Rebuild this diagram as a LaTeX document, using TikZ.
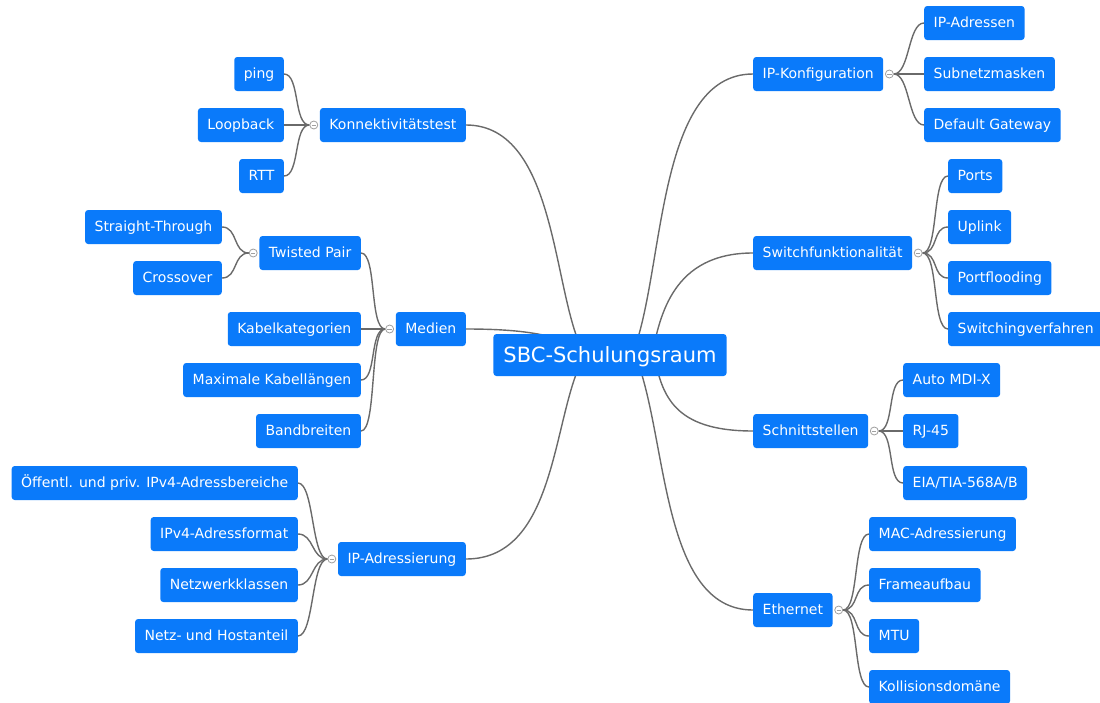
\documentclass[tikz,border=0pt]{standalone}
\usepackage{fontspec}
\setmainfont{DejaVu Sans}
\usetikzlibrary{backgrounds}
\definecolor{mapblue}{HTML}{0A7AFA}
\definecolor{mapline}{HTML}{6A6A6A}
\definecolor{foldgray}{HTML}{A0A0A0}

\begin{document}
\begin{tikzpicture}[x=1pt, y=-1pt,
  topic/.style={fill=mapblue, text=white, rounded corners=3pt,
    font=\fontsize{14}{16}\selectfont, inner xsep=9.5pt, inner ysep=0pt,
    minimum height=34pt, text height=10.3pt, text depth=1pt},
  roottopic/.style={topic, font=\fontsize{21}{25}\selectfont, inner xsep=10pt,
    minimum height=42pt, text height=15pt, text depth=1pt},
  fold/.style={circle, draw=foldgray, fill=white, line width=0.8pt,
    inner sep=0pt, minimum size=8pt,
    path picture={\draw[foldgray, line width=0.8pt]
      ([xshift=-2.2pt]path picture bounding box.center) --
      ([xshift=2.2pt]path picture bounding box.center);}},
  branch/.style={draw=mapline, line width=1.4pt}]

% Fix the page size
\useasboundingbox (0,0) rectangle (1100,702);

% Define the columns
\def\leftmain{466}
\def\rightmain{753}

% Draw the central topic
\node[roottopic] (root) at (610,355) {SBC-Schulungsraum};

% Left main topics
\node[topic, anchor=east] (konn) at (\leftmain,125) {Konnektivitätstest};
\node[topic, anchor=east] (medien) at (\leftmain,329) {Medien};
\node[topic, anchor=east] (ipadr) at (\leftmain,559) {IP-Adressierung};

% Right main topics
\node[topic, anchor=west] (ipkonf) at (\rightmain,74) {IP-Konfiguration};
\node[topic, anchor=west] (switch) at (\rightmain,253) {Switchfunktionalität};
\node[topic, anchor=west] (schnitt) at (\rightmain,431) {Schnittstellen};
\node[topic, anchor=west] (eth) at (\rightmain,610) {Ethernet};

% Konnektivitaetstest
\node[topic, anchor=east] (ping) at (284,74) {ping};
\node[topic, anchor=east] (loop) at (284,125) {Loopback};
\node[topic, anchor=east] (rtt) at (284,176) {RTT};

% Medien
\node[topic, anchor=east] (tp) at (361,253) {Twisted Pair};
\node[topic, anchor=east] (kabkat) at (361,329) {Kabelkategorien};
\node[topic, anchor=east] (maxlen) at (361,380) {Maximale Kabellängen};
\node[topic, anchor=east] (band) at (361,431) {Bandbreiten};
\node[topic, anchor=east] (straight) at (222,227) {Straight-Through};
\node[topic, anchor=east] (cross) at (222,278) {Crossover};

% IP-Adressierung
\node[topic, anchor=east] (oeff) at (298,483) {Öffentl. und priv. IPv4-Adressbereiche};
\node[topic, anchor=east] (format) at (298,534) {IPv4-Adressformat};
\node[topic, anchor=east] (klassen) at (298,585) {Netzwerkklassen};
\node[topic, anchor=east] (anteil) at (298,636) {Netz- und Hostanteil};

% IP-Konfiguration
\node[topic, anchor=west] (ipadd) at (924,23) {IP-Adressen};
\node[topic, anchor=west] (subnet) at (924,74) {Subnetzmasken};
\node[topic, anchor=west] (gateway) at (924,125) {Default Gateway};

% Switchfunktionalitaet
\node[topic, anchor=west] (ports) at (948,176) {Ports};
\node[topic, anchor=west] (uplink) at (948,227) {Uplink};
\node[topic, anchor=west] (flood) at (948,278) {Portflooding};
\node[topic, anchor=west] (swverf) at (948,329) {Switchingverfahren};

% Schnittstellen
\node[topic, anchor=west] (mdix) at (903,380) {Auto MDI-X};
\node[topic, anchor=west] (rj) at (903,431) {RJ-45};
\node[topic, anchor=west] (eia) at (903,483) {EIA/TIA-568A/B};

% Ethernet
\node[topic, anchor=west] (mac) at (869,534) {MAC-Adressierung};
\node[topic, anchor=west] (frame) at (869,585) {Frameaufbau};
\node[topic, anchor=west] (mtu) at (869,636) {MTU};
\node[topic, anchor=west] (koll) at (869,687) {Kollisionsdomäne};

% Fold markers
\node[fold] (konnf) at ([xshift=-6pt]konn.west) {};
\node[fold] (medienf) at ([xshift=-6pt]medien.west) {};
\node[fold] (tpf) at ([xshift=-6pt]tp.west) {};
\node[fold] (ipadrf) at ([xshift=-6pt]ipadr.west) {};
\node[fold] (ipkonff) at ([xshift=6pt]ipkonf.east) {};
\node[fold] (switchf) at ([xshift=6pt]switch.east) {};
\node[fold] (schnittf) at ([xshift=6pt]schnitt.east) {};
\node[fold] (ethf) at ([xshift=6pt]eth.east) {};

\begin{scope}[on background layer]
% Central connectors
\draw[branch] (konn.east) .. controls +(93,0) and +(-33,-55) .. ([xshift=-25pt]root.center);
\draw[branch] (medien.east) .. controls +(80,0) and +(-50,-15) .. (root.center);
\draw[branch] (ipadr.east) .. controls +(93,0) and +(-33,55) .. ([xshift=-25pt]root.center);
\draw[branch] (ipkonf.west) .. controls +(-98,0) and +(33,-80) .. ([xshift=22pt]root.center);
\draw[branch] (switch.west) .. controls +(-80,0) and +(8,-40) .. ([xshift=42pt]root.center);
\draw[branch] (schnitt.west) .. controls +(-80,0) and +(8,40) .. ([xshift=44pt]root.center);
\draw[branch] (eth.west) .. controls +(-93,0) and +(33,80) .. ([xshift=25pt]root.center);

% Left sub connectors
\foreach \c in {ping,loop,rtt}
  \draw[branch] (\c.east) .. controls +(16,0) and +(-16,0) .. (konnf.west);
\foreach \c in {tp,kabkat,maxlen,band}
  \draw[branch] (\c.east) .. controls +(16,0) and +(-16,0) .. (medienf.west);
\foreach \c in {straight,cross}
  \draw[branch] (\c.east) .. controls +(16,0) and +(-16,0) .. (tpf.west);
\foreach \c in {oeff,format,klassen,anteil}
  \draw[branch] (\c.east) .. controls +(16,0) and +(-16,0) .. (ipadrf.west);

% Right sub connectors
\foreach \c in {ipadd,subnet,gateway}
  \draw[branch] (ipkonff.east) .. controls +(16,0) and +(-16,0) .. (\c.west);
\foreach \c in {ports,uplink,flood,swverf}
  \draw[branch] (switchf.east) .. controls +(16,0) and +(-16,0) .. (\c.west);
\foreach \c in {mdix,rj,eia}
  \draw[branch] (schnittf.east) .. controls +(16,0) and +(-16,0) .. (\c.west);
\foreach \c in {mac,frame,mtu,koll}
  \draw[branch] (ethf.east) .. controls +(16,0) and +(-16,0) .. (\c.west);
\end{scope}

\end{tikzpicture}
\end{document}
